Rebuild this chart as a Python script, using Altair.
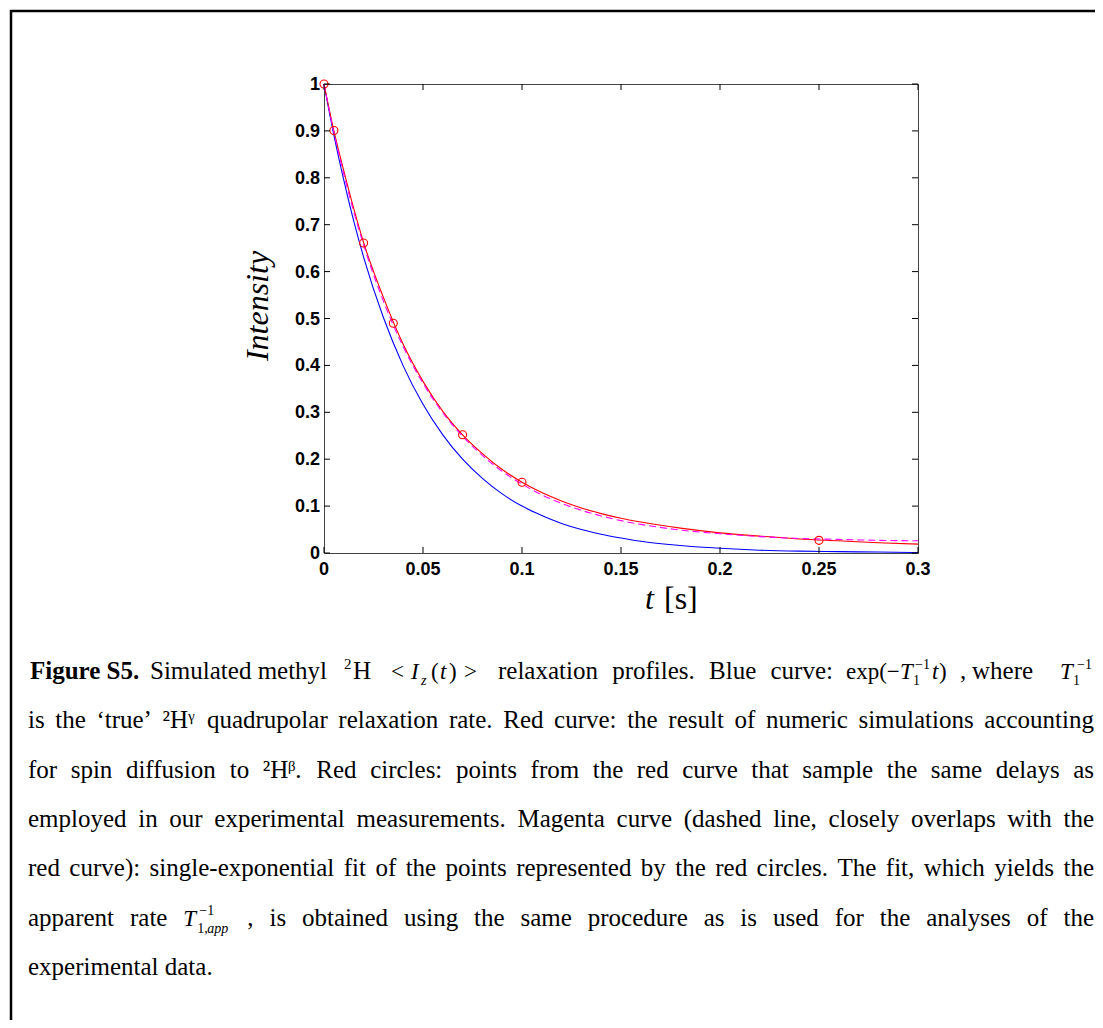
import altair as alt
import pandas as pd

# ---------------- data ----------------
t_curve = [0, 0.005, 0.01, 0.015, 0.02, 0.03, 0.04, 0.05, 0.06, 0.07, 0.08, 0.09, 0.10,
           0.11, 0.12, 0.13, 0.14, 0.15, 0.16, 0.18, 0.20, 0.22, 0.24, 0.26, 0.28, 0.30]
blue_curve = [1.000, 0.891, 0.795, 0.708, 0.631, 0.502, 0.399, 0.317, 0.252, 0.200, 0.159, 0.126, 0.100,
              0.080, 0.063, 0.050, 0.040, 0.032, 0.025, 0.016, 0.010, 0.006, 0.004, 0.003, 0.002, 0.001]
red_curve = [1.000, 0.900, 0.815, 0.735, 0.662, 0.545, 0.445, 0.366, 0.302, 0.252, 0.212, 0.178, 0.151,
             0.129, 0.111, 0.096, 0.084, 0.074, 0.066, 0.053, 0.043, 0.036, 0.030, 0.026, 0.022, 0.019]
magenta_fit = [1.000, 0.897, 0.808, 0.728, 0.657, 0.537, 0.440, 0.362, 0.299, 0.249, 0.208, 0.174, 0.147,
               0.124, 0.106, 0.091, 0.079, 0.069, 0.061, 0.049, 0.041, 0.035, 0.031, 0.029, 0.027, 0.026]
t_points = [0, 0.005, 0.02, 0.035, 0.07, 0.10, 0.25]
red_points = [1.000, 0.901, 0.661, 0.490, 0.252, 0.151, 0.027]

x_ticks = [0, 0.05, 0.1, 0.15, 0.2, 0.25, 0.3]
x_labels = ["0", "0.05", "0.1", "0.15", "0.2", "0.25", "0.3"]
y_ticks = [0, 0.1, 0.2, 0.3, 0.4, 0.5, 0.6, 0.7, 0.8, 0.9, 1.0]
y_labels = ["0", "0.1", "0.2", "0.3", "0.4", "0.5", "0.6", "0.7", "0.8", "0.9", "1"]

y_title = "Intensity"
x_title_var = "t"
x_title_unit = "[s]"

cap_l1_bold = "Figure S5."
cap_l1_mid = "relaxation profiles. Blue curve:"
cap_l2 = "is the \u2018true\u2019 \u00b2H\u1d5e quadrupolar relaxation rate. Red curve: the result of numeric simulations accounting"
cap_l3 = "for spin diffusion to \u00b2H\u1d5d. Red circles: points from the red curve that sample the same delays as"
cap_l4 = "employed in our experimental measurements. Magenta curve (dashed line, closely overlaps with the"
cap_l5 = "red curve): single-exponential fit of the points represented by the red circles. The fit, which yields the"
cap_l6_start = ["apparent", "rate"]
cap_l6_end = ", is obtained using the same procedure as is used for the analyses of the"
cap_l7 = "experimental data."

# ---------------- layout ----------------
W, H = 594, 469
OX, OY = 324, 84          # page position of the plot's top-left corner
SERIF = "Liberation Serif"
SANS = "Liberation Sans"
FS = 25                   # caption font size
SUB = 15

curves = pd.DataFrame({"t": t_curve, "blue": blue_curve, "red": red_curve, "mag": magenta_fit})
pts = pd.DataFrame({"t": t_points, "v": red_points})
xt = pd.DataFrame({"v": x_ticks, "lab": x_labels})
yt = pd.DataFrame({"v": y_ticks, "lab": y_labels})
dummy = pd.DataFrame({"d": [0]})

xs = alt.Scale(domain=[0, 0.3], nice=False, zero=False)
ys = alt.Scale(domain=[0, 1], nice=False, zero=False)

base = alt.Chart(curves)
blue = base.mark_line(color="#0000FF", strokeWidth=1.1, interpolate="monotone").encode(
    x=alt.X("t:Q", scale=xs, axis=None), y=alt.Y("blue:Q", scale=ys, axis=None))
red = base.mark_line(color="#FF0000", strokeWidth=1.1, interpolate="monotone").encode(
    x=alt.X("t:Q", scale=xs, axis=None), y=alt.Y("red:Q", scale=ys, axis=None))
mag = base.mark_line(color="#FF00FF", strokeWidth=1.1, strokeDash=[7, 4], interpolate="monotone").encode(
    x=alt.X("t:Q", scale=xs, axis=None), y=alt.Y("mag:Q", scale=ys, axis=None))
circles = alt.Chart(pts).mark_point(shape="circle", filled=False, color="#FF0000", size=64,
                                    strokeWidth=1.1, opacity=1).encode(
    x=alt.X("t:Q", scale=xs, axis=None), y=alt.Y("v:Q", scale=ys, axis=None))

TL = 6
tick_b = alt.Chart(xt).mark_rule(color="black", strokeWidth=1).encode(
    x=alt.X("v:Q", scale=xs, axis=None), y=alt.value(H), y2=alt.value(H - TL))
tick_t = alt.Chart(xt).mark_rule(color="black", strokeWidth=1).encode(
    x=alt.X("v:Q", scale=xs, axis=None), y=alt.value(0), y2=alt.value(TL))
tick_l = alt.Chart(yt).mark_rule(color="black", strokeWidth=1).encode(
    y=alt.Y("v:Q", scale=ys, axis=None), x=alt.value(0), x2=alt.value(TL))
tick_r = alt.Chart(yt).mark_rule(color="black", strokeWidth=1).encode(
    y=alt.Y("v:Q", scale=ys, axis=None), x=alt.value(W), x2=alt.value(W - TL))

xlab = alt.Chart(xt).mark_text(font=SANS, fontWeight="bold", fontSize=18, color="black",
                               align="center", baseline="alphabetic").encode(
    x=alt.X("v:Q", scale=xs, axis=None), y=alt.value(575 - OY), text="lab:N")
ylab = alt.Chart(yt).mark_text(font=SANS, fontWeight="bold", fontSize=18, color="black",
                               align="right", baseline="alphabetic", dy=6).encode(
    y=alt.Y("v:Q", scale=ys, axis=None), x=alt.value(-4), text="lab:N")


def txt(s, px, py, size=FS, style="normal", weight="normal", align="left", font=SERIF,
        baseline="alphabetic", angle=0):
    return alt.Chart(dummy).mark_text(align=align, baseline=baseline, font=font, fontSize=size,
                                      fontStyle=style, fontWeight=weight, color="black",
                                      angle=angle).encode(
        x=alt.value(px - OX), y=alt.value(py - OY), text=alt.value(s))


# Times New Roman advance widths (1/1000 em) for justification of caption lines
TW = {" ": 250, ".": 250, ",": 250, ":": 278, ";": 278, "(": 333, ")": 333, "-": 333,
      "\u2018": 333, "\u2019": 333, "\u00b2": 300, "\u1d5e": 330, "\u1d5d": 330}
TW.update({c: w for c, w in zip("abcdefghijklmnopqrstuvwxyz",
                                [444, 500, 444, 500, 444, 333, 500, 500, 278, 278, 500, 278, 778,
                                 500, 500, 500, 500, 333, 389, 278, 500, 500, 722, 500, 500, 444])})
TW.update({c: w for c, w in zip("ABCDEFGHIJKLMNOPQRSTUVWXYZ",
                                [722, 667, 667, 722, 611, 556, 722, 722, 333, 389, 722, 611, 889,
                                 722, 722, 556, 722, 667, 556, 611, 722, 722, 944, 722, 722, 611])})


def tw(s, size=FS):
    return sum(TW.get(c, 500) for c in s) * size / 1000.0


def justify(words, x0, x1, y):
    natural = sum(tw(w) for w in words)
    gap = (x1 - x0 - natural) / (len(words) - 1)
    out = []
    x = x0
    for w in words:
        out.append(txt(w, x, y))
        x += tw(w) + gap
    return out


L, R = 28, 1094
b = [679, 728, 778, 827, 876, 926, 975]

layers = [blue, red, mag, circles, tick_b, tick_t, tick_l, tick_r, xlab, ylab]

# axis titles
layers.append(txt(y_title, 258, 306, size=32, style="italic", align="center", baseline="middle", angle=270))
layers.append(txt(x_title_var, 645, 609, size=32, style="italic"))
layers.append(txt(x_title_unit, 664, 609, size=32))

# border frame of the figure
frame = alt.Chart(dummy).mark_rect(fillOpacity=0, stroke="black", strokeWidth=2.5).encode(
    x=alt.value(11 - OX), x2=alt.value(1200 - OX), y=alt.value(11 - OY), y2=alt.value(1100 - OY))
layers.append(frame)

# caption line 1 (mixed text and math)
MS = 23
layers += [
    txt(cap_l1_bold, 30, b[0], weight="bold"),
    txt("Simulated methyl", 150, b[0]),
    txt("2", 344, b[0] - 10, size=SUB),
    txt("H", 353, b[0]),
    txt("<", 391, b[0], size=MS),
    txt("I", 411, b[0], size=MS, style="italic"),
    txt("z", 421, b[0] + 6, size=SUB - 1, style="italic"),
    txt("(", 431, b[0], size=MS),
    txt("t", 440, b[0], size=MS, style="italic"),
    txt(")", 449, b[0], size=MS),
    txt(">", 464, b[0], size=MS),
    txt("exp(\u2212", 846, b[0], size=MS),
    txt("T", 900, b[0], size=MS, style="italic"),
    txt("1", 913, b[0] + 6, size=SUB - 1),
    txt("\u22121", 915, b[0] - 10, size=SUB - 1),
    txt("t", 932, b[0], size=MS, style="italic"),
    txt(")", 939, b[0], size=MS),
    txt(",", 960, b[0]),
    txt("where", 972, b[0]),
    txt("T", 1060, b[0], size=MS, style="italic"),
    txt("1", 1073, b[0] + 6, size=SUB - 1),
    txt("\u22121", 1077, b[0] - 10, size=SUB - 1),
]
mid_words = cap_l1_mid.split(" ")
layers += justify(mid_words, 498, 833 - tw(mid_words[-1]) + tw(mid_words[-1]), b[0])

# caption lines 2-5: fully justified word by word
for i, line in enumerate([cap_l2, cap_l3, cap_l4, cap_l5]):
    layers += justify(line.split(" "), L, R, b[i + 1])

# caption line 6: justified, with the T_{1,app}^{-1} group as one token
tokens = cap_l6_start + ["<T>"] + cap_l6_end.split(" ")
T_W = tw("T", MS) + 34
widths = [T_W if tk == "<T>" else tw(tk) for tk in tokens]
gap = (R - L - sum(widths)) / (len(tokens) - 1)
x = L
for tk, wd in zip(tokens, widths):
    if tk == "<T>":
        layers += [
            txt("T", x, b[5], size=MS, style="italic"),
            txt("1,", x + 14, b[5] + 7, size=SUB - 1),
            txt("app", x + 24, b[5] + 7, size=SUB - 1, style="italic"),
            txt("\u22121", x + 16, b[5] - 11, size=SUB - 1),
        ]
    else:
        layers.append(txt(tk, x, b[5]))
    x += wd + gap

# caption line 7
layers.append(txt(cap_l7, L, b[6]))

chart = alt.layer(*layers).properties(
    width=W, height=H,
    autosize=alt.AutoSizeParams(type="none"),
    padding={"left": OX - 8, "top": OY - 8, "right": 1087 - (OX - 8) - W, "bottom": 1012 - (OY - 8) - H},
    background="white",
).configure_view(stroke="#444444", strokeWidth=1)

chart.save("out.html", embed_options={"renderer": "svg", "actions": False})
